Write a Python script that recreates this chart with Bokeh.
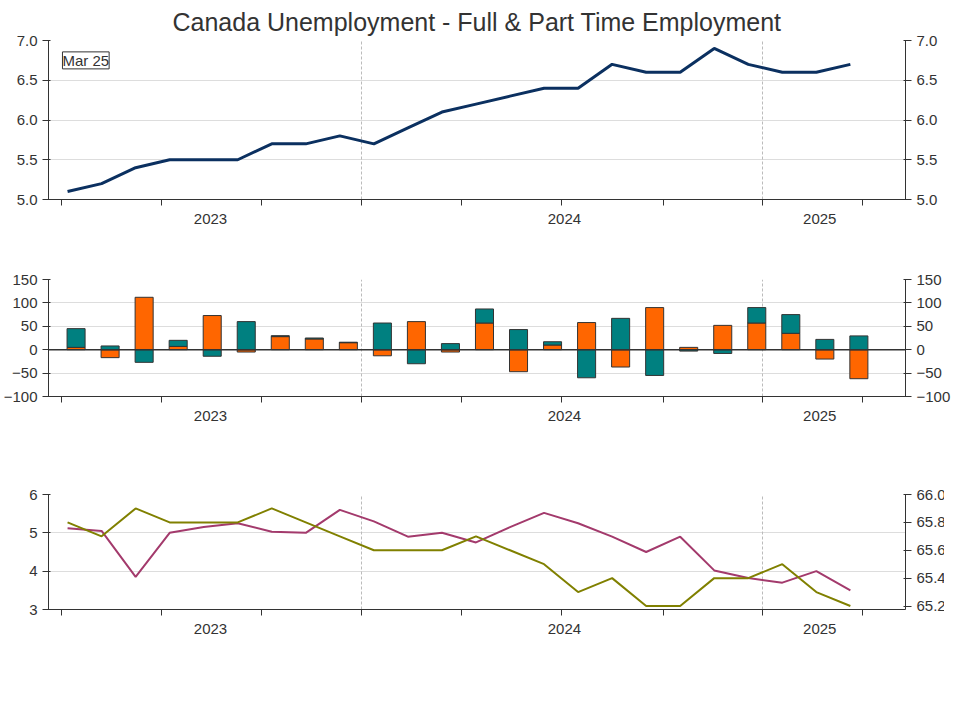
from bokeh.plotting import figure
from bokeh.layouts import column
from bokeh.models import (FixedTicker, LinearAxis, Range1d, Legend, LegendItem, Label,
                          Span, ColumnDataSource)
from bokeh.embed import file_html
from bokeh.resources import INLINE
import numpy as np

months = list(range(24))  # Apr 2023 .. Mar 2025
unemp = [5.1,5.2,5.4,5.5,5.5,5.5,5.7,5.7,5.8,5.7,5.9,6.1,6.2,6.3,6.4,6.4,6.7,6.6,6.6,6.9,6.7,6.6,6.6,6.7]
fulltime = [5,-17,112,7,73,-5,28,23,15,-13,60,-5,57,-47,10,58,-37,90,5,52,57,35,-20,-62]
parttime = [40,8,-27,13,-14,60,2,2,1,57,-30,13,30,43,7,-60,67,-55,-3,-8,33,40,22,29.5]
wages = [5.12,5.05,3.85,5.0,5.15,5.25,5.03,5.0,5.6,5.3,4.9,5.0,4.75,5.15,5.52,5.25,4.9,4.5,4.9,4.02,3.82,3.7,4.0,3.5]
partic = [65.8,65.7,65.9,65.8,65.8,65.8,65.9,65.8,65.7,65.6,65.6,65.6,65.7,65.6,65.5,65.3,65.4,65.2,65.2,65.4,65.4,65.5,65.3,65.2]
year_pos = [4.2, 14.6, 22.1]
year_labels = ["2023", "2024", "2025"]
quarter_ticks = [-0.18, 2.76, 5.7, 8.64, 11.58, 14.5, 17.5, 20.41, 23.35]
year_grid = [8.64, 20.41]

FONT = "Liberation Sans"
GRAY = "#333333"
XR = (-0.56, 24.62)

def base(fh, top, bottom, yr):
    p = figure(frame_width=857, frame_height=fh, min_border_left=40,
               min_border_right=47, min_border_top=top, min_border_bottom=bottom,
               x_range=Range1d(*XR), y_range=Range1d(*yr), output_backend="svg",
               toolbar_location=None)
    p.outline_line_color = None
    ax = p.xaxis[0]
    ax.ticker = FixedTicker(ticks=year_pos, minor_ticks=quarter_ticks)
    ax.major_label_overrides = {v: l for v, l in zip(year_pos, year_labels)}
    ax.major_tick_out = 0
    ax.major_tick_in = 0
    ax.minor_tick_out = 6
    ax.minor_tick_in = 0
    ax.major_label_standoff = 8
    for a in p.axis:
        a.major_label_text_font = FONT
        a.major_label_text_font_size = "15px"
        a.major_label_text_color = GRAY
        a.axis_line_color = GRAY
        a.major_tick_line_color = GRAY
        a.minor_tick_line_color = GRAY
    p.xgrid.ticker = FixedTicker(ticks=year_grid)
    p.xgrid.grid_line_color = "#bbbbbb"
    p.xgrid.grid_line_dash = "3 2"
    p.ygrid.grid_line_color = "#bbbbbb"
    p.ygrid.grid_line_dash = "1 1"
    p.yaxis[0].minor_tick_line_color = None
    return p

def add_right(p, ticks, rng=None, fmt=None):
    if rng is not None:
        p.extra_y_ranges = {"r": Range1d(*rng)}
        ra = LinearAxis(y_range_name="r")
    else:
        ra = LinearAxis()
    ra.ticker = FixedTicker(ticks=ticks)
    ra.major_label_text_font = FONT
    ra.major_label_text_font_size = "15px"
    ra.major_label_text_color = GRAY
    ra.axis_line_color = GRAY
    ra.major_tick_line_color = GRAY
    ra.minor_tick_line_color = GRAY
    if fmt:
        ra.major_label_overrides = fmt
    p.add_layout(ra, "right")

def legend(p, items, loc, glyph_h=14):
    lg = Legend(items=items, location=loc, orientation="vertical",
                label_text_font=FONT, label_text_font_size="15px", label_text_color=GRAY,
                border_line_alpha=0, background_fill_alpha=0, glyph_width=36,
                glyph_height=glyph_h, spacing=2, padding=2, margin=0, label_height=16)
    p.add_layout(lg)
    return lg

def vlabel(p, x, y, txt, bg, fg="white", rng=None):
    kw = dict(y_range_name=rng) if rng else {}
    p.add_layout(Label(x=x, y=y, text=txt, text_font=FONT, text_font_size="15px",
                       text_color=fg, text_baseline="middle", background_fill_color=bg,
                       border_line_color=bg, x_offset=4, **kw))

# ---- Panel 1
p1 = base(159, 40, 58, (5.0, 7.0))
p1.title.text = "Canada Unemployment - Full & Part Time Employment"
p1.title.align = "center"
p1.title.text_font = FONT
p1.title.text_font_size = "25px"
p1.title.text_font_style = "normal"
p1.title.text_color = GRAY
yt = [5.0, 5.5, 6.0, 6.5, 7.0]
p1.yaxis[0].ticker = FixedTicker(ticks=yt)
p1.yaxis[0].major_label_overrides = {v: f"{v:.1f}" for v in yt}
add_right(p1, yt, fmt={v: f"{v:.1f}" for v in yt})
r1 = p1.line(months, unemp, line_color="#0b3060", line_width=3)
legend(p1, [LegendItem(label="UNEMPLOYMENT RATE (15 YRS & OVER) : Canada", renderers=[r1])], (10, -55))
p1.add_layout(Label(x=-0.15, y=6.75, text="Mar 25", text_font=FONT, text_font_size="15px",
                    text_color=GRAY, text_baseline="middle", border_line_color=GRAY,
                    background_fill_color="white"))
vlabel(p1, XR[1], unemp[-1], "6.7", "#a8d0f5", fg=GRAY)

# ---- Panel 2
p2 = base(117, 22, 71, (-100, 150))
yt2 = [-100, -50, 0, 50, 100, 150]
p2.yaxis[0].ticker = FixedTicker(ticks=yt2)
add_right(p2, yt2)
xb = [m + 0.25 for m in months]
ft = np.array(fulltime, float); pt = np.array(parttime, float)
ft_bot = np.zeros(24); ft_top = ft.copy()
pt_bot = np.where((pt >= 0) == (ft >= 0), ft, 0.0)
pt_top = pt_bot + pt
src = ColumnDataSource(dict(x=xb, ftb=ft_bot, ftt=ft_top, ptb=pt_bot, ptt=pt_top))
rf = p2.vbar(x="x", bottom="ftb", top="ftt", width=0.53, source=src,
             fill_color="#ff6600", line_color="#333333", line_width=1)
rp = p2.vbar(x="x", bottom="ptb", top="ptt", width=0.53, source=src,
             fill_color="#008080", line_color="#333333", line_width=1)
p2.add_layout(Span(location=0, dimension="width", line_color=GRAY, line_width=1.5))
legend(p2, [LegendItem(label="FULL-TIME EMPLOYMENT (15 YRS & OVER) : Canada", renderers=[rf]),
            LegendItem(label="PART-TIME EMPLOYMENT - CANADA (15 YRS & OVER) : Canada", renderers=[rp])], (10, -74))
vlabel(p2, XR[1], parttime[-1], "29.5", "#008080")
vlabel(p2, XR[1], fulltime[-1], "-62.0", "#ff6600")

# ---- Panel 3
p3 = base(115, 27, 95, (3, 6))
p3.yaxis[0].ticker = FixedTicker(ticks=[3, 4, 5, 6])
rt = [65.2, 65.4, 65.6, 65.8, 66.0]
add_right(p3, rt, rng=(65.175, 66.0), fmt={v: f"{v:.1f}" for v in rt})
rw = p3.line(months, wages, line_color="#a33a6c", line_width=2)
rpr = p3.line(months, partic, line_color="#808000", line_width=2, y_range_name="r")
legend(p3, [LegendItem(label="AVERAGE HOURLY WAGES - PERMANENT EMPLOYEES %YoY (LFS) : Canada", renderers=[rw]),
            LegendItem(label="PARTICIPATION RATE - CANADA (15 YRS & OVER) : Canada (RH Scale)", renderers=[rpr])], (10, -76))
vlabel(p3, XR[1], partic[-1], "65.2", "#808000", rng="r")
p3.add_layout(Label(x=XR[1], y=0.65, text="Source: LSEG Datastream, Ventum Financial",
                    text_font=FONT, text_font_size="17px", text_color=GRAY,
                    text_align="right", text_baseline="middle", x_offset=40))

layout = column(p1, p2, p3, spacing=0)
open("out.html", "w").write(file_html(layout, INLINE))
